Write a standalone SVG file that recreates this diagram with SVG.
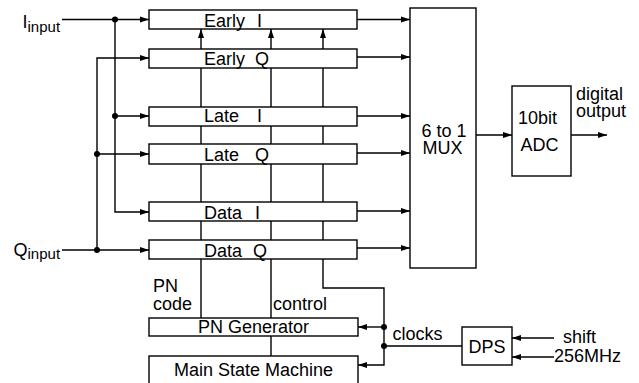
<svg xmlns="http://www.w3.org/2000/svg" width="639" height="383" viewBox="0 0 639 383">
<defs>
<marker id="ah" markerUnits="userSpaceOnUse" markerWidth="9" markerHeight="7" refX="9" refY="3.5" orient="auto">
<path d="M0,0.5 L9,3.5 L0,6.5 z" fill="#000"/>
</marker>
<style>
.ln{fill:none;stroke:#000;stroke-width:1.4}
.ar{marker-end:url(#ah)}
.bx{fill:#fff;stroke:#000;stroke-width:1.4}
.dot{fill:#000}
text{font-family:"Liberation Sans",Arial,sans-serif;font-size:18px;fill:#000}
.sub{font-size:15px}
</style>
</defs>
<rect width="639" height="383" fill="#fff"/>
<g id="connectors">
<path class="ln ar" d="M62,19.5 H149"/>
<path class="ln ar" d="M115,19.5 V212 H149"/>
<path class="ln ar" d="M115,116 H149"/>
<path class="ln ar" d="M62,250 H149"/>
<path class="ln ar" d="M97,250 V58 H149"/>
<path class="ln ar" d="M97,154 H149"/>
<circle class="dot" cx="115" cy="19.5" r="3"/>
<circle class="dot" cx="115" cy="116" r="3"/>
<circle class="dot" cx="97" cy="154" r="3"/>
<circle class="dot" cx="97" cy="250" r="3"/>
<path class="ln ar" d="M201,318 V29"/>
<path class="ln ar" d="M271,318 V29"/>
<path class="ln" d="M271,336 V356"/>
<path class="ln ar" d="M462,346 H384 V288 H323 V29"/>
<path class="ln ar" d="M384,327 H358"/>
<path class="ln ar" d="M384,346 V365 H358"/>
<circle class="dot" cx="384" cy="327" r="3"/>
<circle class="dot" cx="384" cy="346" r="3"/>
<path class="ln ar" d="M357,19.5 H410"/>
<path class="ln ar" d="M355,57 H410"/>
<path class="ln ar" d="M357,116 H410"/>
<path class="ln ar" d="M355,153 H410"/>
<path class="ln ar" d="M357,211 H410"/>
<path class="ln ar" d="M355,248 H410"/>
<path class="ln ar" d="M476,135 H512"/>
<path class="ln ar" d="M571,135 H607"/>
<path class="ln ar" d="M554,338 H512"/>
<path class="ln ar" d="M554,357 H512"/>
</g>
<g id="early-i"><rect class="bx" x="149" y="10" width="208" height="19"/><text x="204" y="27">Early</text><text x="257" y="27">I</text></g>
<g id="early-q"><rect class="bx" x="149" y="49" width="208" height="19"/><text x="204" y="65">Early</text><text x="255" y="65">Q</text></g>
<g id="late-i"><rect class="bx" x="149" y="107" width="208" height="19"/><text x="204" y="122">Late</text><text x="257" y="122">I</text></g>
<g id="late-q"><rect class="bx" x="149" y="144" width="208" height="20"/><text x="204" y="161">Late</text><text x="255" y="161">Q</text></g>
<g id="data-i"><rect class="bx" x="149" y="202" width="208" height="19"/><text x="204" y="219">Data</text><text x="255" y="219">I</text></g>
<g id="data-q"><rect class="bx" x="149" y="240" width="208" height="19"/><text x="204" y="257">Data</text><text x="253" y="257">Q</text></g>
<g id="pn-generator"><rect class="bx" x="149" y="318" width="209" height="18"/><text x="253.5" y="333" text-anchor="middle">PN Generator</text></g>
<g id="main-state-machine"><rect class="bx" x="149" y="356" width="209" height="40"/><text x="253.5" y="376" text-anchor="middle">Main State Machine</text></g>
<g id="mux"><rect class="bx" x="410" y="8" width="66" height="260"/><text x="421.5" y="137">6 to 1</text><text x="422.5" y="154">MUX</text></g>
<g id="adc"><rect class="bx" x="512" y="86" width="59" height="90"/><text x="518" y="124">10bit</text><text x="520.5" y="151">ADC</text></g>
<g id="dps"><rect class="bx" x="462" y="327" width="50" height="38"/><text x="487" y="353" text-anchor="middle">DPS</text></g>
<g id="labels">
<text x="22.5" y="28">I<tspan class="sub" dy="4">input</tspan></text>
<text x="13.5" y="256">Q<tspan class="sub" dy="3">input</tspan></text>
<text x="153" y="292">PN</text>
<text x="153" y="310">code</text>
<text x="273" y="310">control</text>
<text x="392.5" y="340">clocks</text>
<text x="563" y="343">shift</text>
<text x="554" y="362">256MHz</text>
<text x="576" y="100">digital</text>
<text x="576" y="117">output</text>
</g>
</svg>
